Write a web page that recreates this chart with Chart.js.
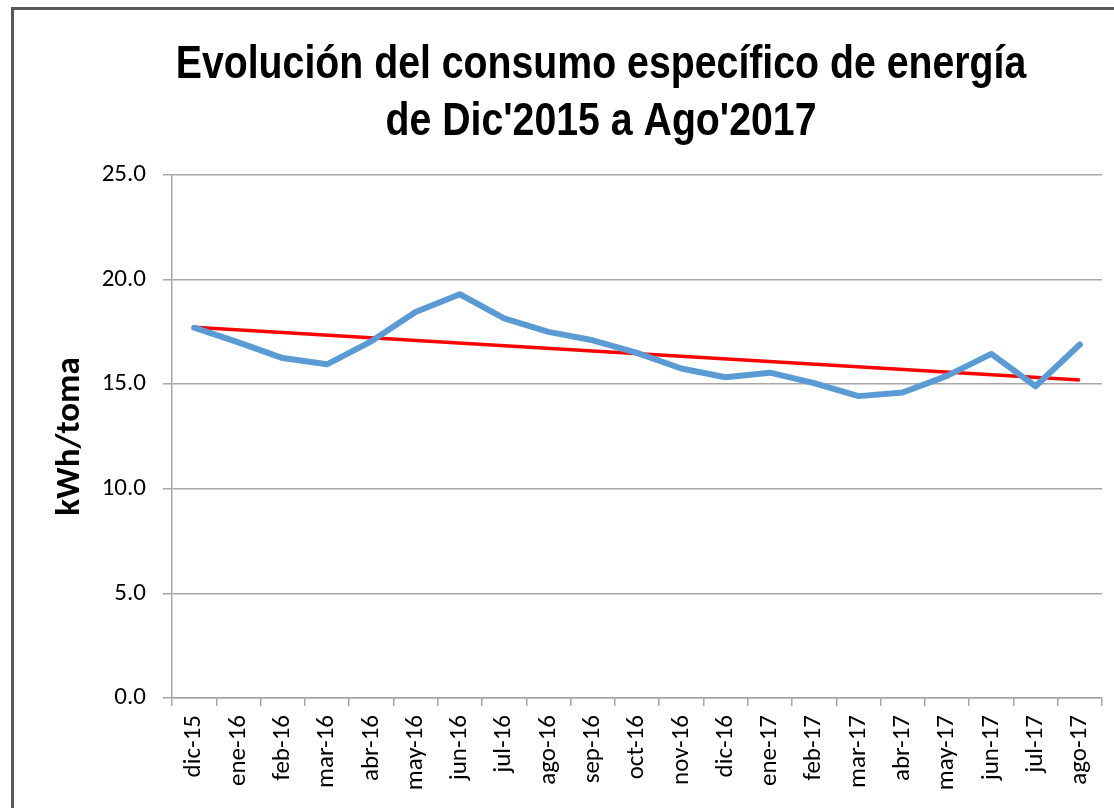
<!DOCTYPE html>
<html>
<head>
<meta charset="utf-8">
<script src="https://cdn.jsdelivr.net/npm/chart.js@4"></script>
<style>
  html, body { margin: 0; padding: 0; overflow: hidden; background: #fff; }
  #frame { position: absolute; left: 11px; top: 7px; width: 1300px; height: 1000px; border: 3px solid #595959; }
  #chart { position: absolute; left: 0; top: 0; }
</style>
</head>
<body>
<div id="frame"></div>
<canvas id="chart" width="1114" height="808"></canvas>
<script>
const months = ['dic-15', 'ene-16', 'feb-16', 'mar-16', 'abr-16', 'may-16', 'jun-16', 'jul-16',
  'ago-16', 'sep-16', 'oct-16', 'nov-16', 'dic-16', 'ene-17', 'feb-17', 'mar-17', 'abr-17',
  'may-17', 'jun-17', 'jul-17', 'ago-17'];
const consumo = [17.7, 17.0, 16.25, 15.95, 17.05, 18.45, 19.3, 18.15, 17.5, 17.1, 16.5,
  15.75, 15.33, 15.55, 15.05, 14.43, 14.6, 15.4, 16.45, 14.9, 16.9];
// trend line end points
const trendStart = 17.72;
const trendEnd = 15.2;
const yTicks = { min: 0, max: 25, step: 5 };
const titleLines = ['Evolución del consumo específico de energía', "de Dic'2015 a Ago'2017"];

const trend = months.map((m, i) => i === 0 ? trendStart : (i === months.length - 1 ? trendEnd : null));

const tickFont = { family: 'Carlito, Lato, sans-serif', size: 25 };
const gridGray = '#a6a6a6';

// the original title uses a narrow bold face, so draw it condensed
const narrowTitle = {
  id: 'narrowTitle',
  afterDraw(chart) {
    const c = chart.ctx;
    c.save();
    c.fillStyle = '#000';
    c.font = 'bold 47px "Liberation Sans", Arial, sans-serif';
    c.textAlign = 'center';
    c.textBaseline = 'alphabetic';
    titleLines.forEach((line, i) => {
      c.save();
      c.translate(601, 78 + i * 57);
      c.scale(0.835, 1);
      c.fillText(line, 0, 0);
      c.restore();
    });
    c.restore();
  }
};

const ctx = document.querySelector('#chart').getContext('2d');
new Chart(ctx, {
  type: 'line',
  data: {
    labels: months,
    datasets: [
      {
        label: 'consumo',
        data: consumo,
        borderColor: '#5b9bd5',
        borderWidth: 6,
        pointRadius: 0,
        tension: 0,
        borderJoinStyle: 'round',
        borderCapStyle: 'round'
      },
      {
        label: 'tendencia',
        data: trend,
        borderColor: '#ff0000',
        borderWidth: 3.5,
        pointRadius: 0,
        spanGaps: true
      }
    ]
  },
  options: {
    responsive: false,
    animation: false,
    layout: { padding: { left: 12, right: 12, top: 175, bottom: 0 } },
    plugins: {
      legend: { display: false },
      tooltip: { enabled: false },
      title: { display: false }
    },
    scales: {
      x: {
        offset: true,
        grid: { display: true, drawOnChartArea: false, offset: true, tickLength: 8, color: gridGray, lineWidth: 1.5 },
        border: { color: gridGray, width: 1.5 },
        ticks: { color: '#000', font: tickFont, minRotation: 90, maxRotation: 90, autoSkip: false, padding: 9 },
        afterFit(scale) {
          scale.height = 110;
          scale.paddingLeft = 0;
          scale.paddingRight = 0;
        }
      },
      y: {
        min: yTicks.min,
        max: yTicks.max,
        grid: { color: gridGray, lineWidth: 1.5, tickLength: 9 },
        border: { color: gridGray, width: 1.5 },
        ticks: {
          stepSize: yTicks.step,
          color: '#000',
          font: tickFont,
          padding: 17,
          callback: v => v.toFixed(1)
        },
        title: {
          display: true,
          text: 'kWh/toma',
          color: '#000',
          font: { family: 'Carlito, Lato, sans-serif', size: 35, weight: 'bold', lineHeight: 1.2 },
          padding: { top: 37, bottom: 0 }
        },
        afterFit(scale) { scale.width = 160; }
      }
    }
  },
  plugins: [narrowTitle]
});
</script>
</body>
</html>
